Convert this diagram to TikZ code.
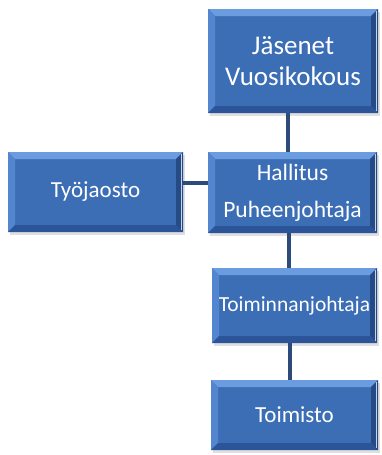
\documentclass[tikz,border=0pt]{standalone}
\usepackage{fontspec}
\setmainfont{Carlito}
\usetikzlibrary{shadows}
\definecolor{boxblue}{RGB}{60,110,182}
\definecolor{bevtop}{RGB}{108,156,224}
\definecolor{bevleft}{RGB}{84,134,208}
\definecolor{bevright}{RGB}{38,74,134}
\definecolor{bevbot}{RGB}{44,84,152}
\definecolor{linkblue}{RGB}{44,74,122}
\newcommand{\bevw}{7pt}
\tikzset{
  box/.style={rectangle, fill=boxblue, text=white, align=center, inner sep=0pt,
    drop shadow={opacity=0.25, shadow xshift=1.5pt, shadow yshift=-2.5pt},
    path picture={
      \fill[bevtop] (path picture bounding box.north west) -- (path picture bounding box.north east)
        -- ([shift={(-\bevw,-\bevw)}]path picture bounding box.north east)
        -- ([shift={(\bevw,-\bevw)}]path picture bounding box.north west) -- cycle;
      \fill[bevleft] (path picture bounding box.north west) -- (path picture bounding box.south west)
        -- ([shift={(\bevw,\bevw)}]path picture bounding box.south west)
        -- ([shift={(\bevw,-\bevw)}]path picture bounding box.north west) -- cycle;
      \fill[bevright] (path picture bounding box.north east) -- (path picture bounding box.south east)
        -- ([shift={(-\bevw,\bevw)}]path picture bounding box.south east)
        -- ([shift={(-\bevw,-\bevw)}]path picture bounding box.north east) -- cycle;
      \fill[bevbot] (path picture bounding box.south west) -- (path picture bounding box.south east)
        -- ([shift={(-\bevw,\bevw)}]path picture bounding box.south east)
        -- ([shift={(\bevw,\bevw)}]path picture bounding box.south west) -- cycle;
      \draw[white!70!boxblue, line width=0.8pt] ([shift={(-1.2pt,-2pt)}]path picture bounding box.north east) -- ([shift={(-1.2pt,2pt)}]path picture bounding box.south east);
    }},
  link/.style={draw=linkblue, line width=4.5pt}
}
\begin{document}
\begin{tikzpicture}[x=1pt,y=-1pt]
\useasboundingbox[fill=white] (0,0) rectangle (382,455);
\node[box, minimum width=170pt, minimum height=104pt, font=\fontsize{27}{31}\selectfont] (jas) at (293,61) {J\"asenet\\Vuosikokous};
\node[box, minimum width=175pt, minimum height=80pt, font=\fontsize{23}{27}\selectfont] (tyo) at (95.5,192) {Ty\"ojaosto};
\node[box, minimum width=169pt, minimum height=81pt, font=\fontsize{23.5}{28}\selectfont] (hal) at (292.5,192.5) {Hallitus\\[9pt]Puheenjohtaja};
\node[box, minimum width=165pt, minimum height=75pt, font=\fontsize{21.5}{25}\selectfont] (toi) at (294.5,305.5) {Toiminnanjohtaja};
\node[box, minimum width=167pt, minimum height=70pt, font=\fontsize{23}{27}\selectfont] (tms) at (294.5,415) {Toimisto};
\draw[link] ([xshift=-5pt]jas.south) -- ([xshift=-5pt]jas.south |- hal.north);
\draw[link] ([yshift=9pt]tyo.east) -- ([yshift=9pt]tyo.east -| hal.west);
\draw[link] ([xshift=-3.5pt]hal.south) -- ([xshift=-3.5pt]hal.south |- toi.north);
\draw[link] ([xshift=-4.5pt]toi.south) -- ([xshift=-4.5pt]toi.south |- tms.north);
\end{tikzpicture}
\end{document}
